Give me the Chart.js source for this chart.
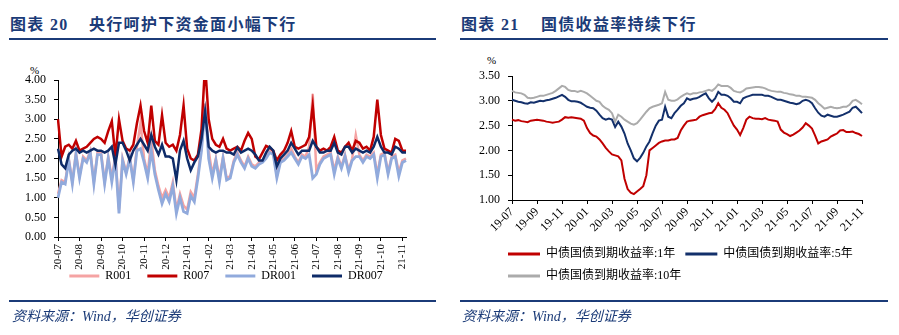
<!DOCTYPE html>
<html><head><meta charset="utf-8">
<script src="https://cdn.jsdelivr.net/npm/chart.js@4.4.0/dist/chart.umd.min.js"></script>
<style>
html,body{margin:0;padding:0;background:#fff;width:899px;height:335px;overflow:hidden;position:relative;font-family:"Liberation Serif","Noto Sans CJK SC",serif;}
.t{position:absolute;color:#1b3b78;font-weight:bold;font-size:16px;line-height:18px;white-space:nowrap;letter-spacing:1.3px;}
.rule{position:absolute;height:2px;background:#1b3b78;}
.src{position:absolute;color:#1b3b78;font-style:italic;font-size:14px;line-height:16px;white-space:nowrap;}
.pct{position:absolute;font-size:11px;line-height:12px;color:#000;}
canvas{position:absolute;}
</style></head><body>
<div class="t" style="left:10px;top:16px">图表 20</div>
<div class="t" style="left:89px;top:16px">央行呵护下资金面小幅下行</div>
<div class="rule" style="left:9px;top:38px;width:427px"></div>
<div class="t" style="left:461px;top:16px">图表 21</div>
<div class="t" style="left:541px;top:16px">国债收益率持续下行</div>
<div class="rule" style="left:460px;top:38px;width:428px"></div>
<div class="pct" style="left:30px;top:64px">%</div>
<div class="pct" style="left:487px;top:54px">%</div>
<canvas id="c1" width="440" height="260" style="left:0;top:60px"></canvas>
<canvas id="c2" width="440" height="248" style="left:450px;top:50px"></canvas>
<div class="rule" style="left:9px;top:300px;width:427px;height:1.5px"></div>
<div class="rule" style="left:460px;top:300px;width:428px;height:1.5px"></div>
<div class="src" style="left:12px;top:309px">资料来源：Wind，华创证券</div>
<div class="src" style="left:462px;top:309px">资料来源：Wind，华创证券</div>
<script>
// ---------- Left chart data (6 obs per month, 2020-07 .. 2021-11) ----------
const leftMonths = ['20-07','20-08','20-09','20-10','20-11','20-12','21-01','21-02','21-03','21-04','21-05','21-06','21-07','21-08','21-09','21-10','21-11'];
const r001 = [
 1.1,1.45,1.4,2.0,1.4,2.15, 1.55,2.05,1.95,2.2,1.4,2.15, 2.15,1.4,2.05,1.5,2.1,0.7,
 2.0,1.65,2.05,1.45,2.3,2.9, 2.0,1.6,2.5,1.7,1.3,1.0, 1.2,1.0,1.4,0.7,1.1,0.8,
 0.7,1.15,1.0,1.6,2.3,3.4, 2.2,1.6,2.0,1.5,2.05,1.5, 1.55,1.95,2.15,1.95,1.8,2.05,
 1.85,1.8,1.9,1.95,2.05,2.2, 2.15,1.55,1.95,2.0,2.1,2.25, 2.05,1.9,2.1,2.05,2.3,3.65,
 1.7,1.9,2.05,2.1,2.15,1.7, 2.05,1.8,2.1,1.7,2.0,2.6, 2.1,1.95,2.1,2.05,2.15,1.6,
 2.1,2.15,1.65,2.05,2.1,1.65, 1.95,2.0];
const r007 = [
 3.0,2.05,2.3,2.35,2.25,2.45, 2.2,2.25,2.3,2.4,2.5,2.55, 2.5,2.4,2.7,2.95,2.05,3.0,
 2.45,2.25,2.2,2.35,2.9,3.35, 2.7,2.4,3.35,2.45,2.35,3.1, 2.4,2.3,2.35,2.2,2.6,3.35,
 2.25,2.0,1.95,2.1,2.75,4.4, 3.0,2.5,2.35,2.3,2.5,2.25, 2.2,2.25,2.3,2.2,2.45,2.65,
 2.5,2.05,1.98,2.15,2.32,2.28, 2.2,1.95,2.1,2.2,2.4,2.7, 2.3,2.25,2.3,2.35,2.55,3.35,
 2.3,2.2,2.25,2.2,2.3,2.55, 2.2,2.15,2.3,2.4,2.2,2.45, 2.4,2.25,2.3,2.2,2.55,3.5,
 2.6,2.25,2.2,2.15,2.5,2.45, 2.2,2.2];
const dr001 = [
 1.0,1.4,1.35,1.95,1.35,2.1, 1.5,2.0,1.9,2.15,1.35,2.1, 2.1,1.35,2.0,1.4,2.0,0.6,
 1.95,1.6,2.0,1.4,2.2,2.25, 1.9,1.5,2.2,1.6,1.2,0.85, 1.1,0.9,1.3,0.6,1.0,0.65,
 0.6,1.05,0.9,1.5,2.2,3.3, 2.0,1.5,1.95,1.4,2.0,1.45, 1.5,1.9,2.1,1.9,1.75,2.0,
 1.8,1.75,1.85,1.9,2.0,2.15, 2.1,1.5,1.9,1.95,2.05,2.15, 2.0,1.85,2.05,2.0,2.1,1.5,
 1.6,1.85,2.0,2.05,2.1,1.6, 2.0,1.75,2.05,1.65,1.95,2.05, 2.05,1.9,2.05,2.0,2.1,1.5,
 2.05,2.1,1.6,2.0,2.05,1.55, 1.9,1.95];
const dr007 = [
 2.25,1.85,1.75,2.1,2.2,2.25, 2.15,2.2,2.15,2.2,2.25,2.2, 2.2,2.15,2.2,2.3,1.85,2.4,
 2.4,2.2,1.95,2.2,2.35,2.5, 2.35,2.2,2.6,2.3,2.1,2.35, 2.05,2.05,2.0,1.45,2.2,2.45,
 2.0,1.7,1.9,2.05,2.5,3.2, 2.3,2.2,2.15,2.2,2.2,2.15, 2.15,2.1,2.28,2.15,2.2,2.25,
 2.2,2.1,1.95,1.95,2.15,2.3, 2.2,1.8,2.0,2.1,2.2,2.4, 2.25,2.1,2.2,2.2,2.2,2.45,
 2.3,2.15,2.15,2.2,2.2,2.4, 2.15,2.1,2.3,2.3,2.15,2.25, 2.2,2.15,2.2,2.15,2.3,2.55,
 2.3,2.15,2.15,2.1,2.3,2.25, 2.15,2.15];
const leftYTicks = [0,0.5,1,1.5,2,2.5,3,3.5,4];

// ---------- Right chart data (4 obs per month, 2019-07 .. 2021-11) ----------
const rightTickLabels = ['19-07','19-09','19-11','20-01','20-03','20-05','20-07','20-09','20-11','21-01','21-03','21-05','21-07','21-09','21-11'];
const y1 = [
 2.62,2.60,2.61,2.59, 2.58,2.57,2.60,2.61, 2.62,2.61,2.60,2.58, 2.57,2.56,2.57,2.58,
 2.62,2.67,2.66,2.67, 2.66,2.65,2.64,2.60, 2.45,2.35,2.30,2.28, 2.22,2.14,2.05,1.98,
 1.92,1.90,1.88,1.80, 1.43,1.22,1.15,1.12, 1.17,1.22,1.28,1.50, 2.00,2.05,2.10,2.15,
 2.18,2.20,2.20,2.22, 2.22,2.25,2.40,2.50, 2.58,2.60,2.61,2.62, 2.68,2.71,2.73,2.75,
 2.76,2.83,2.95,2.86, 2.82,2.75,2.62,2.50, 2.42,2.31,2.45,2.62, 2.68,2.65,2.64,2.64,
 2.63,2.65,2.62,2.61, 2.60,2.58,2.42,2.36, 2.33,2.29,2.32,2.36, 2.40,2.46,2.55,2.50,
 2.44,2.30,2.14,2.18, 2.20,2.22,2.28,2.31, 2.34,2.40,2.41,2.37, 2.37,2.38,2.35,2.33,
 2.29];
const y5 = [
 3.02,3.00,2.98,2.97, 2.95,2.94,2.97,2.96, 2.98,3.00,2.99,3.01, 3.02,3.04,3.06,3.09,
 3.12,3.08,3.02,2.99, 2.99,2.98,2.96,2.92, 2.88,2.86,2.85,2.80, 2.72,2.65,2.62,2.64,
 2.62,2.47,2.58,2.48, 2.34,2.14,2.00,1.84, 1.78,1.85,1.95,2.08, 2.18,2.35,2.50,2.60,
 2.62,2.88,2.68,2.65, 2.75,2.82,2.90,2.95, 3.05,3.02,3.04,3.05, 3.08,3.12,3.15,3.05,
 2.98,3.05,3.18,3.12, 3.12,3.10,3.05,2.98, 2.98,2.95,3.05,3.08, 3.10,3.12,3.12,3.12,
 3.12,3.10,3.10,3.08, 3.05,3.02,3.02,3.00, 2.98,2.96,2.95,2.93, 2.95,3.00,3.02,3.00,
 2.95,2.85,2.76,2.70, 2.68,2.72,2.70,2.68, 2.68,2.70,2.72,2.75, 2.78,2.86,2.88,2.82,
 2.75];
const y10 = [
 3.20,3.17,3.16,3.15, 3.12,3.06,3.05,3.06, 3.08,3.10,3.10,3.12, 3.14,3.16,3.20,3.25,
 3.30,3.28,3.22,3.20, 3.20,3.18,3.20,3.18, 3.15,3.10,3.05,3.00, 2.98,2.90,2.85,2.82,
 2.75,2.58,2.72,2.68, 2.62,2.58,2.54,2.52, 2.55,2.62,2.70,2.78, 2.85,2.88,2.90,2.92,
 2.95,3.18,3.02,3.00, 3.00,3.03,3.08,3.12, 3.15,3.13,3.15,3.15, 3.17,3.18,3.20,3.22,
 3.20,3.25,3.33,3.30, 3.30,3.30,3.26,3.20, 3.18,3.17,3.20,3.25, 3.26,3.27,3.28,3.28,
 3.27,3.25,3.22,3.20, 3.19,3.18,3.18,3.16, 3.15,3.13,3.12,3.10, 3.10,3.08,3.08,3.07,
 3.06,3.02,2.95,2.90, 2.84,2.86,2.88,2.86, 2.85,2.86,2.88,2.88, 2.92,3.00,3.02,2.98,
 2.93];

// ---------- build category labels ----------
const leftStep = 6;
const leftLabels = r007.map((_, i) => (i % leftStep === 0 && leftMonths[i / leftStep]) ? leftMonths[i / leftStep] : '');
const rightStep = 8;
const rightLabels = y1.map((_, i) => (i % rightStep === 0 && rightTickLabels[i / rightStep]) ? rightTickLabels[i / rightStep] : '');

const FONT = '"Liberation Serif","Noto Sans CJK SC",serif';
Chart.defaults.font.family = FONT;
Chart.defaults.font.size = 12;
Chart.defaults.color = '#000';

// moves the legend box after layout so that it sits where the reference has it
const shiftLegend = {
  id: 'shiftLegend',
  afterLayout(chart, args, opts) {
    const lg = chart.legend; if (!lg) return;
    lg.left += opts.dx || 0; lg.right += opts.dx || 0;
    lg.top += opts.dy || 0; lg.bottom += opts.dy || 0;
  }
};

function legendLabels(extra) {
  return Object.assign({
    font: {family: FONT, size: 12},
    color: '#000',
    sort: (a, b) => a.datasetIndex - b.datasetIndex,
    generateLabels: (chart) => Chart.defaults.plugins.legend.labels.generateLabels(chart)
      .map(l => Object.assign(l, {fillStyle: l.strokeStyle, lineWidth: 0}))
  }, extra);
}
function ds(label, data, color, width, order) {
  return {label, data, borderColor: color, backgroundColor: color, borderWidth: width,
          pointRadius: 0, tension: 0, fill: false, order};
}
function catCallback(labels) {
  return function (value) { const l = labels[value]; return l ? l : null; };
}

new Chart(document.getElementById('c1'), {
  type: 'line',
  plugins: [shiftLegend],
  data: {
    labels: leftLabels,
    datasets: [
      ds('R001', r001, '#F5A3A3', 2.5, 4),
      ds('R007', r007, '#C00000', 2.5, 2),
      ds('DR001', dr001, '#91AADC', 2.8, 3),
      ds('DR007', dr007, '#0E2B68', 2.5, 1)
    ]
  },
  options: {
    responsive: false, animation: false, devicePixelRatio: 1,
    layout: {padding: {left: 18, right: 34, top: 20, bottom: 11}},
    plugins: {
      tooltip: {enabled: false},
      shiftLegend: {dx: 14, dy: -17},
      legend: {position: 'bottom', align: 'center',
        labels: legendLabels({boxWidth: 30, boxHeight: 3, padding: 16})}
    },
    scales: {
      x: {
        afterFit: s => { s.height = 34; },
        grid: {drawOnChartArea: false, drawTicks: true, tickLength: 4, color: '#000'},
        border: {color: '#000', width: 1},
        ticks: {autoSkip: false, maxRotation: 90, minRotation: 90, padding: 3,
                callback: catCallback(leftLabels), font: {family: FONT, size: 11}}
      },
      y: {
        min: 0, max: 4,
        afterFit: s => { s.width = 40; },
        afterBuildTicks: s => { s.ticks = leftYTicks.map(v => ({value: v})); },
        grid: {drawOnChartArea: false, drawTicks: true, tickLength: 4, color: '#000'},
        border: {color: '#000', width: 1},
        ticks: {padding: 8, callback: v => Number(v).toFixed(2), font: {family: FONT, size: 12}}
      }
    }
  }
});

new Chart(document.getElementById('c2'), {
  type: 'line',
  plugins: [shiftLegend],
  data: {
    labels: rightLabels,
    datasets: [
      ds('中债国债到期收益率:1年', y1, '#C00000', 2),
      ds('中债国债到期收益率:5年', y5, '#13306B', 2),
      ds('中债国债到期收益率:10年', y10, '#ABABAB', 2)
    ]
  },
  options: {
    responsive: false, animation: false, devicePixelRatio: 1,
    layout: {padding: {left: 26, right: 28, top: 26, bottom: 12}},
    plugins: {
      tooltip: {enabled: false},
      shiftLegend: {dx: 22, dy: 6},
      legend: {position: 'bottom', align: 'start',
        labels: legendLabels({boxWidth: 32, boxHeight: 3, padding: 10})}
    },
    scales: {
      x: {
        afterFit: s => { s.height = 32; },
        grid: {drawOnChartArea: false, drawTicks: true, tickLength: 4, color: '#000'},
        border: {color: '#000', width: 1},
        ticks: {autoSkip: false, maxRotation: 45, minRotation: 45, padding: 1,
                callback: catCallback(rightLabels), font: {family: FONT, size: 12}}
      },
      y: {
        min: 1, max: 3.5,
        afterFit: s => { s.width = 36; },
        grid: {drawOnChartArea: false, drawTicks: true, tickLength: 4, color: '#000'},
        border: {color: '#000', width: 1},
        ticks: {stepSize: 0.5, padding: 8, callback: v => Number(v).toFixed(2), font: {family: FONT, size: 12}}
      }
    }
  }
});
</script>
</body></html>
